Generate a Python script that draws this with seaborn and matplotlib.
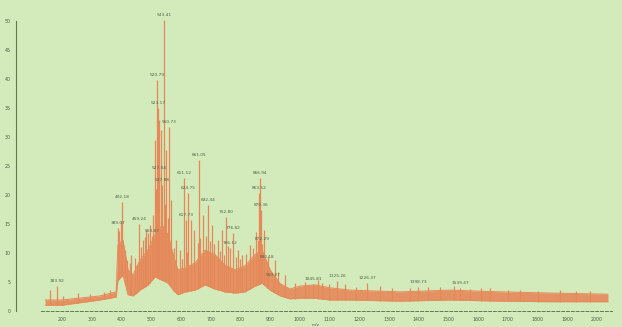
import matplotlib
matplotlib.use("Agg")

import numpy as np
import pandas as pd
import matplotlib.pyplot as plt
import seaborn as sns
from matplotlib.ticker import MultipleLocator


# envelope of the noisy ion band (m/z, lower edge, upper edge)
env_mz = [143, 200, 328, 382, 388, 405, 422, 439, 462, 489, 513, 537, 557, 574,
          590, 614, 648, 681, 715, 748, 782, 816, 849, 873, 900, 934, 967, 1001,
          1051, 1102, 1169, 1337, 1506, 1674, 1842, 2037]
env_low = [1.0, 1.0, 1.9, 2.4, 5.3, 6.2, 2.8, 2.6, 3.6, 4.5, 5.9, 5.3, 4.8, 3.6,
           2.8, 3.3, 3.6, 4.5, 3.8, 3.3, 3.1, 3.3, 4.3, 4.8, 3.6, 2.6, 2.1, 2.2,
           2.2, 1.9, 1.9, 1.7, 1.9, 1.7, 1.6, 1.6]
env_high = [1.9, 1.9, 2.6, 3.3, 11.4, 12.2, 7.1, 6.2, 8.8, 10.5, 13.1, 14.8, 13.1, 9.7,
            7.1, 7.4, 8.3, 10.5, 9.7, 7.9, 7.1, 7.8, 9.7, 10.5, 7.1, 4.7, 3.8, 4.3,
            4.5, 4.0, 3.6, 3.3, 3.6, 3.3, 3.1, 2.9]

# unlabelled spikes
minor_mz = [160, 203, 254, 294, 341, 362, 412, 419, 432, 446, 473, 483, 496, 506,
            513, 526, 533, 550, 567, 584, 597, 634, 644, 674, 705, 725, 738, 792,
            806, 833, 853, 880, 917, 950, 1018, 1075, 1152, 1270, 1371, 1472, 1573,
            1640, 1741, 1876, 1977,
            392, 398, 427, 452, 466, 478, 490, 517, 545, 555, 578, 605, 620, 656,
            665, 686, 698, 712, 732, 745, 760, 785, 800, 820, 842, 858, 893, 925,
            985, 1060, 1098, 1190, 1310, 1430, 1520, 1610, 1700, 1800, 1930]
minor_int = [3.6, 2.6, 3.1, 2.9, 3.3, 3.6, 10.5, 8.8, 9.7, 9.1, 12.2, 14.0, 14.8, 16.6,
             29.5, 32.9, 31.2, 27.8, 19.1, 12.2, 10.5, 15.7, 14.0, 16.6, 14.8, 12.2, 14.0, 10.5,
             9.7, 11.4, 13.6, 14.0, 8.8, 6.2, 5.0, 4.8, 4.7, 4.3, 4.0, 4.1, 3.8,
             4.0, 3.6, 3.6, 3.4,
             13.8, 15.5, 8.2, 7.9, 11.0, 12.8, 13.5, 21.0, 18.5, 16.0, 10.8, 9.0, 10.2, 11.8,
             12.5, 13.0, 12.0, 11.6, 10.4, 9.6, 11.2, 9.3, 8.9, 9.9, 10.8, 12.2, 9.5, 6.8,
             4.9, 5.3, 4.6, 4.2, 3.9, 4.1, 4.3, 3.9, 3.7, 3.5, 3.4]

# labelled peaks
peak_mz = [183.92, 389.07, 402.18, 459.24, 503.87, 520.79, 523.17, 527.04, 537.88,
           543.41, 560.73, 611.12, 617.73, 624.75, 661.05, 692.44, 752.80, 766.12,
           776.82, 863.52, 866.94, 870.36, 872.29, 890.18, 910.27, 1045.81, 1125.26,
           1226.37, 1398.73, 1539.47]
peak_int = [4.3, 14.3, 18.8, 15.0, 12.9, 39.8, 35.0, 23.8, 21.7,
            50.2, 31.7, 22.9, 15.7, 20.3, 26.0, 18.3, 16.2, 10.9,
            13.4, 20.3, 22.9, 17.4, 11.6, 8.4, 5.3, 4.7, 5.2,
            4.8, 4.1, 4.0]

x_ticks = list(range(200, 2001, 100))
y_ticks = list(range(0, 51, 5))

BG = '#d3eaba'
ORANGE = '#e6895a'
AXIS = '#5f7a54'
TEXT = '#4e5e45'

sns.set_style('white')
plt.rcParams['font.family'] = ['DejaVu Sans']

fig = plt.figure(figsize=(6.22, 3.27), dpi=100, facecolor=BG)
ax = fig.add_axes([16 / 622, 16 / 327, 600 / 622, 300 / 327])
ax.set_facecolor(BG)

env = pd.DataFrame({'mz': env_mz, 'low': env_low, 'high': env_high})
ax.fill_between(env['mz'], env['low'], env['high'], color=ORANGE, alpha=0.9, lw=0)
sns.lineplot(data=env, x='mz', y='high', ax=ax, color=ORANGE, lw=0.7)
sns.lineplot(data=env, x='mz', y='low', ax=ax, color=ORANGE, lw=0.7)

# sticks rise from the bottom of the band
minor_base = np.interp(minor_mz, env_mz, env_low)
ax.vlines(minor_mz, minor_base, minor_int, color=ORANGE, lw=0.9)
peak_base = np.interp(peak_mz, env_mz, env_low)
ax.vlines(peak_mz, peak_base, peak_int, color=ORANGE, lw=0.9)

for mz, inten in zip(peak_mz, peak_int):
    ax.text(mz, inten + 0.5, f'{mz:.2f}', ha='center', va='bottom',
            fontsize=3.1, color=TEXT)

ax.set_xlim(45, 2064)
ax.set_ylim(0, 51.7)
ax.set_xticks(x_ticks)
ax.set_yticks(y_ticks)
ax.xaxis.set_minor_locator(MultipleLocator(20))
ax.yaxis.set_minor_locator(MultipleLocator(1))
ax.tick_params(axis='both', which='major', labelsize=3.4, colors=AXIS,
               labelcolor=TEXT, length=2.5, width=0.7, pad=1.5)
ax.tick_params(axis='both', which='minor', colors=AXIS, length=1.3, width=0.6)

ax.set_xlabel('m/z', fontsize=3.2, color=TEXT, labelpad=1)
ax.set_ylabel('')

for side in ['top', 'right']:
    ax.spines[side].set_visible(False)
ax.spines['left'].set_color(AXIS)
ax.spines['left'].set_linewidth(0.8)
ax.spines['left'].set_bounds(0, 50)
ax.spines['bottom'].set_color(AXIS)
ax.spines['bottom'].set_linewidth(0.7)
ax.spines['bottom'].set_linestyle((0, (3, 2)))
ax.spines['bottom'].set_bounds(130, 2050)

fig.savefig('out.png', dpi=100, facecolor=BG)
